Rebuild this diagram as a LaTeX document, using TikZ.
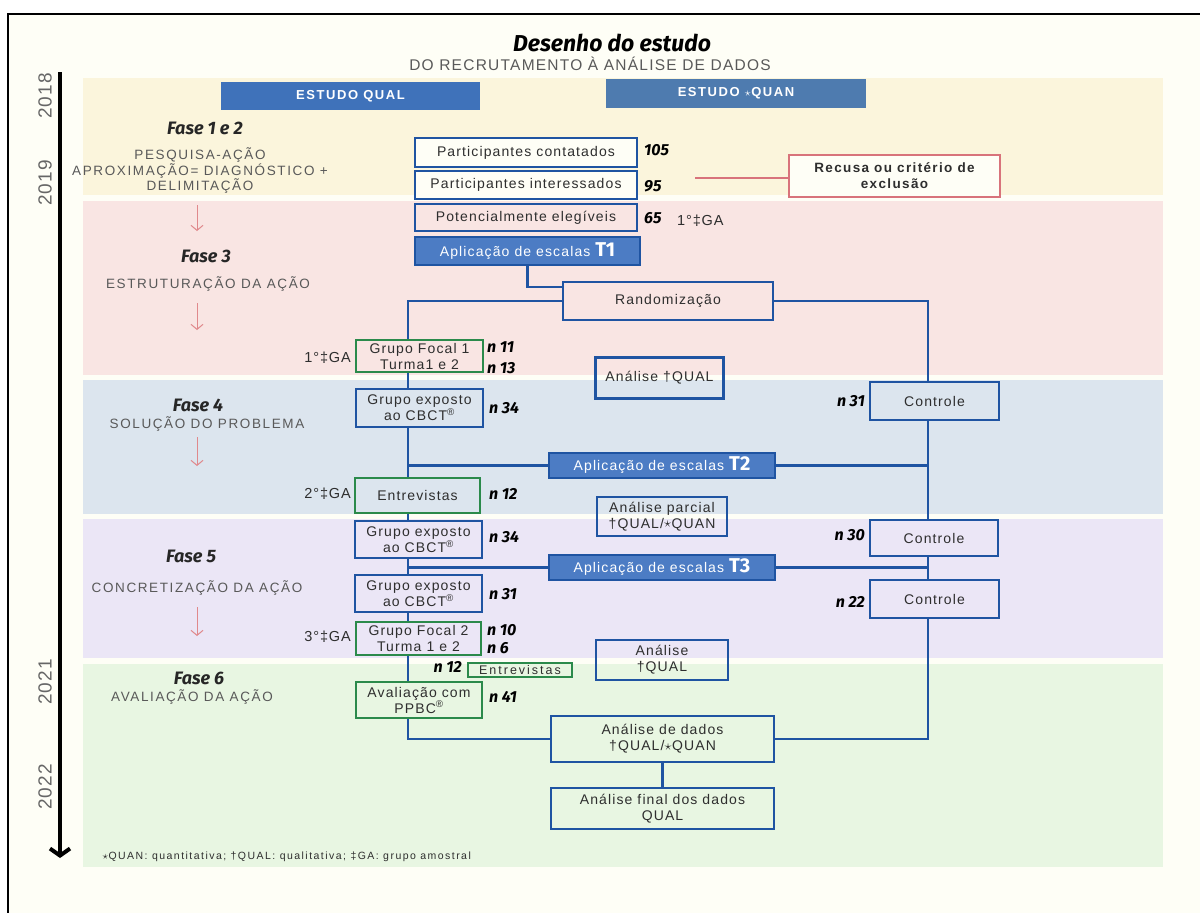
\documentclass[tikz,border=0pt]{standalone}
\usepackage{fontspec}
\setmainfont{Liberation Sans}[LetterSpace=6]
\newfontfamily\handfont{Fira Sans}
\usetikzlibrary{positioning,calc,arrows.meta}
\definecolor{qblue}{HTML}{1F54A2}
\definecolor{qgreen}{HTML}{2B8A4B}
\definecolor{qred}{HTML}{D8737B}
\definecolor{escfill}{HTML}{4C7CC4}
\definecolor{hqual}{HTML}{3F72BA}
\definecolor{hquan}{HTML}{4E7BAF}
\definecolor{pinkarrow}{HTML}{E0898C}
\definecolor{txtgray}{HTML}{2E2E2E}
\definecolor{paper}{HTML}{FEFEF6}
\definecolor{bandA}{HTML}{FBF5DC}
\definecolor{bandB}{HTML}{F9E5E3}
\definecolor{bandC}{HTML}{DCE5EE}
\definecolor{bandD}{HTML}{EBE6F6}
\definecolor{bandE}{HTML}{E8F6E2}
\newcommand{\qst}{\raisebox{0.5pt}{$\star$}\kern0.5pt}
\newcommand{\tlbl}[1]{{\handfont\bfseries\fontsize{20}{19}\selectfont #1}}

\begin{document}
\begin{tikzpicture}[
    x=1pt, y=-1pt,
    qbox/.style={draw=qblue, line width=2.2pt, inner sep=0pt, align=center, text=txtgray, font=\fontsize{14}{16}\selectfont\addfontfeature{LetterSpace=8}},
    gbox/.style={qbox, draw=qgreen},
    escbox/.style={qbox, fill=escfill, text=white},
    headbox/.style={fill=#1, inner sep=0pt, text=white, font=\bfseries\fontsize{13}{14}\selectfont\addfontfeature{LetterSpace=12}},
    link/.style={draw=qblue, line width=2.2pt},
    redlink/.style={draw=qred, line width=1.6pt},
    nlbl/.style={font=\handfont\bfseries\itshape\fontsize{16}{16}\selectfont, inner sep=1pt},
    ga/.style={font=\fontsize{14.5}{15}\selectfont, text=txtgray, inner sep=1pt},
    fase/.style={font=\handfont\bfseries\itshape\fontsize{18}{18}\selectfont, text=black!85},
    fdesc/.style={font=\fontsize{13.5}{15.5}\selectfont\addfontfeature{LetterSpace=12}, text=black!65, align=center},
    parrow/.style={-{Straight Barb[length=5pt,width=12pt]}, draw=pinkarrow, line width=1pt},
    year/.style={rotate=90, font=\fontsize{19}{20}\selectfont, text=black!60},
]
\useasboundingbox (0,0) rectangle (1200,913);
\fill[white] (0,0) rectangle (1200,913);
\fill[paper] (8,14) rectangle (1200,913);
\draw[line width=2.5pt] (8,913) -- (8,14) -- (1200,14);

% faixas das fases
\fill[bandA] (83,78) rectangle (1163,195);
\fill[bandB] (83,201) rectangle (1163,375);
\fill[bandC] (83,380) rectangle (1163,514);
\fill[bandD] (83,519) rectangle (1163,658);
\fill[bandE] (83,664) rectangle (1163,867);

% linha do tempo
\draw[line width=4pt, -{Straight Barb[length=7pt,width=20pt]}] (60,72) -- (60,858);
\node[year] (y18) at (45,96) {2018};
\node[year] (y19) at (45,183) {2019};
\node[year] (y21) at (45,682) {2021};
\node[year] (y22) at (45,787) {2022};

\node[font=\handfont\bfseries\itshape\fontsize{23}{24}\selectfont] (title) at (612,43) {Desenho do estudo};
\node[font=\fontsize{15.5}{16}\selectfont\addfontfeature{LetterSpace=8}, text=black!65] (subt) at (590,64) {DO RECRUTAMENTO À ANÁLISE DE DADOS};

\node[headbox=hqual, minimum width=259pt, minimum height=28pt] (hql) at (350.5,96) {ESTUDO QUAL};
\node[headbox=hquan, minimum width=260pt, minimum height=29pt] (hqn) at (736,93.5) {ESTUDO \qst QUAN};

% coluna das fases
\node[fase] (f12) at (205,128) {Fase 1 e 2};
\node[fdesc] (d12) at (200,171) {PESQUISA-AÇÃO\\APROXIMAÇÃO= DIAGNÓSTICO +\\DELIMITAÇÃO};
\draw[parrow] (197,205) -- (197,231);
\node[fase] (f3) at (206,256) {Fase 3};
\node[fdesc] (d3) at (208,284) {ESTRUTURAÇÃO DA AÇÃO};
\draw[parrow] (197,303) -- (197,330);
\node[fase] (f4) at (198,405) {Fase 4};
\node[fdesc] (d4) at (207,424) {SOLUÇÃO DO PROBLEMA};
\draw[parrow] (197,437) -- (197,466);
\node[fase] (f5) at (191,556) {Fase 5};
\node[fdesc] (d5) at (197,588) {CONCRETIZAÇÃO DA AÇÃO};
\draw[parrow] (197,607) -- (197,636);
\node[fase] (f6) at (199,678) {Fase 6};
\node[fdesc] (d6) at (192,697) {AVALIAÇÃO DA AÇÃO};

% recrutamento
\node[qbox, fill=paper, minimum width=222pt, minimum height=29pt] (cont) at (526,152.5) {Participantes contatados};
\node[qbox, fill=paper, minimum width=222pt, minimum height=28pt] (inter) at (526,185) {Participantes interessados};
\node[qbox, minimum width=222pt, minimum height=27pt] (pot) at (526,217.5) {Potencialmente elegíveis};
\node[escbox, minimum width=225pt, minimum height=28pt] (esc1) at (527.5,251) {Aplicação de escalas \tlbl{T1}};
\node[qbox, minimum width=210pt, minimum height=38pt] (rand) at (668,301) {Randomização};
\node[qbox, draw=qred, fill=paper, font=\bfseries\fontsize{13.5}{16}\selectfont\addfontfeature{LetterSpace=10}, minimum width=211pt, minimum height=42pt] (rec) at (894.5,176) {Recusa ou critério de\\exclusão};
\node[nlbl, anchor=west] (n105) at (643,150) {105};
\node[nlbl, anchor=west] (n95) at (643,186) {95};
\node[nlbl, anchor=west] (n65) at (643,218) {65};
\node[ga, anchor=west] (ga1a) at (676,221) {1°‡GA};

% grupo exposto
\node[gbox, minimum width=127pt, minimum height=32pt] (gf1) at (419.5,356) {Grupo Focal 1\\Turma1 e 2};
\node[qbox, minimum width=127pt, minimum height=38pt] (ge1) at (419.5,408) {Grupo exposto\\ao CBCT\textsuperscript{®}};
\node[gbox, minimum width=125pt, minimum height=35pt] (ent1) at (417.5,495.5) {Entrevistas};
\node[qbox, minimum width=127pt, minimum height=37pt] (ge2) at (418.5,539.5) {Grupo exposto\\ao CBCT\textsuperscript{®}};
\node[qbox, minimum width=127pt, minimum height=37pt] (ge3) at (418.5,593.5) {Grupo exposto\\ao CBCT\textsuperscript{®}};
\node[gbox, minimum width=125pt, minimum height=33pt] (gf2) at (418.5,638.5) {Grupo Focal 2\\Turma 1 e 2};
\node[gbox, minimum width=126pt, minimum height=36pt] (aval) at (419,700) {Avaliação com\\PPBC\textsuperscript{®}};
\node[gbox, line width=1.8pt, font=\fontsize{12.5}{13}\selectfont\addfontfeature{LetterSpace=16}, minimum width=104pt, minimum height=14pt] (ent2) at (520,670) {Entrevistas};

\node[ga, anchor=east] (ga1) at (352,358) {1°‡GA};
\node[ga, anchor=east] (ga2) at (352,494) {2°‡GA};
\node[ga, anchor=east] (ga3) at (352,637) {3°‡GA};
\node[nlbl, anchor=west] (n11) at (486,347) {n 11};
\node[nlbl, anchor=west] (n13) at (486,368) {n 13};
\node[nlbl, anchor=west] (n34a) at (488,408) {n 34};
\node[nlbl, anchor=west] (n12a) at (488,494) {n 12};
\node[nlbl, anchor=west] (n34b) at (488,537) {n 34};
\node[nlbl, anchor=west] (n31a) at (488,594) {n 31};
\node[nlbl, anchor=west] (n10) at (486,630) {n 10};
\node[nlbl, anchor=west] (n6) at (486,648) {n 6};
\node[nlbl, anchor=east] (n12b) at (463,667) {n 12};
\node[nlbl, anchor=west] (n41) at (488,697) {n 41};

% analises e escalas
\node[qbox, minimum width=128pt, minimum height=41pt] (aq1) at (659.5,378) {Análise †QUAL};
\node[escbox, minimum width=226pt, minimum height=25pt] (esc2) at (662,465.5) {Aplicação de escalas \tlbl{T2}};
\node[qbox, minimum width=130pt, minimum height=39pt] (ap) at (662,516.5) {Análise parcial\\†QUAL/\qst QUAN};
\node[escbox, minimum width=226pt, minimum height=25pt] (esc3) at (662,567.5) {Aplicação de escalas \tlbl{T3}};
\node[qbox, minimum width=132pt, minimum height=40pt] (aq2) at (662,660) {Análise\\†QUAL};
\node[qbox, minimum width=223pt, minimum height=46pt] (ad) at (662.5,739) {Análise de dados\\†QUAL/\qst QUAN};
\node[qbox, minimum width=223pt, minimum height=41pt] (af) at (662.5,808.5) {Análise final dos dados\\QUAL};

% controle
\node[qbox, minimum width=129pt, minimum height=38pt] (ctl1) at (934.5,401) {Controle};
\node[qbox, minimum width=128pt, minimum height=36pt] (ctl2) at (934,538) {Controle};
\node[qbox, minimum width=129pt, minimum height=38pt] (ctl3) at (934.5,599) {Controle};
\node[nlbl, anchor=east] (n31b) at (866,401) {n 31};
\node[nlbl, anchor=east] (n30) at (866,535) {n 30};
\node[nlbl, anchor=east] (n22) at (866,602) {n 22};

\node[font=\fontsize{10.5}{11}\selectfont\addfontfeature{LetterSpace=14}, text=txtgray, anchor=west] (nota) at (99,857) {\qst QUAN: quantitativa; †QUAL: qualitativa; ‡GA: grupo amostral};

% ligacoes
\coordinate (lx) at (408,0);
\coordinate (rx) at (928,0);
\coordinate (rl) at (695,178);
\draw[redlink] (rl) -- (rl -| rec.west);
\draw[link] (esc1.south) |- ([yshift=14pt]rand.west);
\draw[link] (rand.west) -| (gf1.north -| lx);
\draw[link] (rand.east) -| (ctl1.north -| rx);
\draw[link] (gf1.south -| lx) -- (ge1.north -| lx);
\draw[link] (ge1.south -| lx) -- (ent1.north -| lx);
\draw[link] (esc2.west) -- (esc2.west -| lx);
\draw[link] (esc2.east) -- (esc2.east -| rx);
\draw[link] (ctl1.south -| rx) -- (ctl2.north -| rx);
\draw[link] (ent1.south -| lx) -- (ge2.north -| lx);
\draw[link] (ge2.south -| lx) -- (ge3.north -| lx);
\draw[link] (esc3.west) -- (esc3.west -| lx);
\draw[link] (esc3.east) -- (esc3.east -| rx);
\draw[link] (ctl2.south -| rx) -- (ctl3.north -| rx);
\draw[link] (ge3.south -| lx) -- (gf2.north -| lx);
\draw[link] (gf2.south -| lx) -- (aval.north -| lx);
\draw[link] (aval.south -| lx) |- (ad.west);
\draw[link] (ctl3.south -| rx) |- (ad.east);
\draw[link] (ad.south) -- (af.north);
\end{tikzpicture}
\end{document}
